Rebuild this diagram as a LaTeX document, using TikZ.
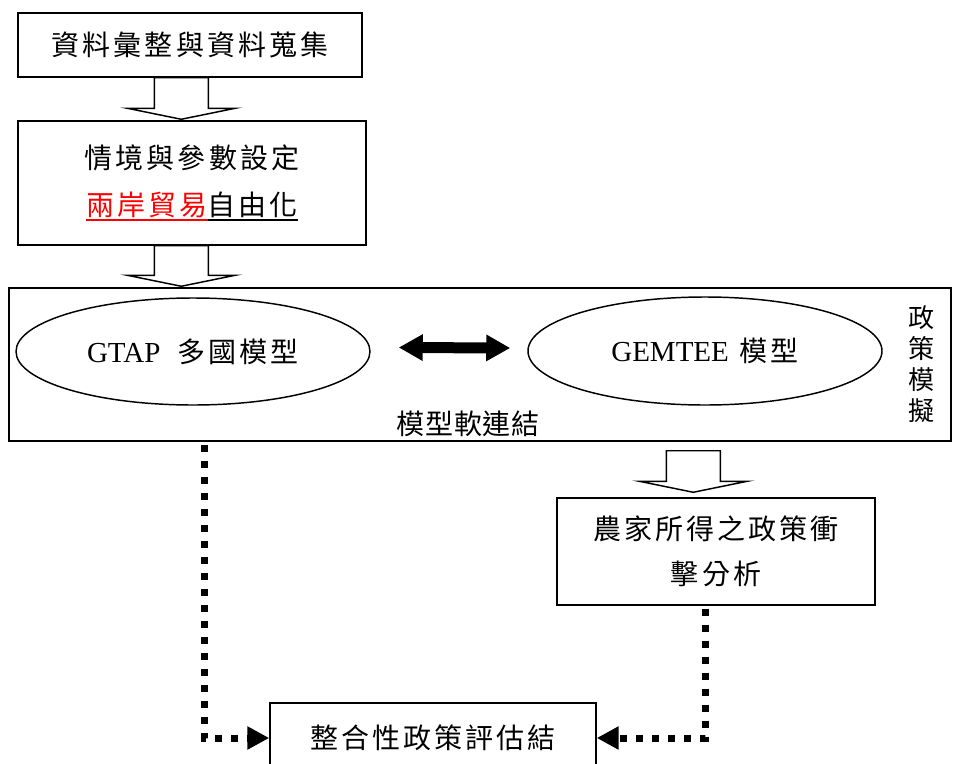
\documentclass[tikz,border=0pt]{standalone}
\usepackage{fontspec}
\setmainfont{Liberation Serif}
\newfontfamily\cjk[LetterSpace=11]{Noto Sans CJK TC}
\newfontfamily\cjktight[LetterSpace=2]{Noto Sans CJK TC}
\newfontfamily\cjkplain{Noto Sans CJK TC}
\usetikzlibrary{shapes.geometric,arrows.meta,calc}
\newcommand\myuline[1]{\setbox0\hbox{#1}\rlap{\rule[-3.6pt]{\wd0}{1.1pt}}\box0}
\newcommand\hollowarrow[2]{\draw[hollow] ($(#1)+(-27,0)$) -- ($(#1)+(27,0)$) -- ($(#2)+(27,-11)$) -- ($(#2)+(54,-11)$) -- (#2) -- ($(#2)+(-54,-11)$) -- ($(#2)+(-27,-11)$) -- cycle;}
\begin{document}
\begin{tikzpicture}[x=0.75pt,y=-0.75pt,
  box/.style={draw,line width=1.1pt,rectangle,inner sep=0pt,align=center},
  oval/.style={draw,line width=1.1pt,ellipse,inner sep=0pt,align=center},
  hollow/.style={draw,line width=1.1pt,fill=white,line join=miter},
  dotline/.style={line width=5.25pt,dash pattern=on 5.25pt off 6.75pt},
  smalltip/.tip={Triangle[width=16.5pt,length=16.5pt]},
  bigtip/.tip={Triangle[width=18.75pt,length=18pt]}
  ]
\useasboundingbox (0,0) rectangle (954,764);
\clip (0,0) rectangle (954,764);

% top boxes
\node[box, minimum width={344*0.75pt}, minimum height={64*0.75pt},
      font={\cjk\fontsize{21}{30}\selectfont}] (box1) at (190,45) {資料彙整與資料蒐集};
\node[box, minimum width={348*0.75pt}, minimum height={124*0.75pt},
      font={\cjk\fontsize{21}{35.25}\selectfont}] (box2) at (192,183)
      {情境與參數設定\\\textcolor{red}{\myuline{兩岸貿易}}\myuline{自由化}};

% simulation frame
\node[box, minimum width={942*0.75pt}, minimum height={153*0.75pt}] (sim) at (480,364.5) {};
\node[oval, minimum width={354*0.75pt}, minimum height={107*0.75pt},
      font={\cjk\fontsize{21}{26}\selectfont}] (gtap) at (193,351.5)
      {{\rmfamily\fontsize{21.75}{26}\selectfont GTAP}\hspace{13pt}多國模型};
\node[oval, minimum width={354*0.75pt}, minimum height={108*0.75pt},
      font={\cjk\fontsize{21}{26}\selectfont}] (gemtee) at (705,351)
      {{\rmfamily\fontsize{21.75}{26}\selectfont GEMTEE}\hspace{8pt}模型};
\node[font={\cjktight\fontsize{21}{26}\selectfont}, inner sep=0pt] (link) at (468,424) {模型軟連結};
\node[font={\cjkplain\fontsize{19.5}{23.25}\selectfont}, align=center, inner sep=0pt] (side) at (921,364) {政\\策\\模\\擬};

\coordinate (da1) at ($(gtap.east)+(28,-4)$);
\coordinate (da2) at ($(gemtee.west)+(-17,-3)$);
\draw[line width=8.25pt, {bigtip}-{bigtip}] (da1) -- (da2);

% lower boxes
\node[box, minimum width={318*0.75pt}, minimum height={107*0.75pt},
      font={\cjk\fontsize{21}{33.75}\selectfont}] (farm) at (716,551.5)
      {農家所得之政策衝\\擊分析};
\node[box, minimum width={326*0.75pt}, minimum height={70*0.75pt},
      font={\cjk\fontsize{21}{30}\selectfont}] (final) at (433,738) {整合性政策評估結};

% block arrows
\coordinate (a1s) at ($(box1.south west)+(164,0)$);
\coordinate (a1t) at ($(box2.north west)+(164,-1)$);
\hollowarrow{a1s}{a1t}
\coordinate (a2s) at ($(box2.south west)+(164,0)$);
\coordinate (a2t) at ($(sim.north west)+(173,-1)$);
\hollowarrow{a2s}{a2t}
\coordinate (a3s) at ($(sim.south west)+(685,9)$);
\coordinate (a3t) at ($(farm.north west)+(137,-5)$);
\hollowarrow{a3s}{a3t}

% dotted connectors
\draw[dotline, -{smalltip}] ($(sim.south west)+(196,3)$) |- (final.west);
\draw[dotline, -{smalltip}] ($(farm.south west)+(149,3)$) |- (final.east);
\end{tikzpicture}
\end{document}
